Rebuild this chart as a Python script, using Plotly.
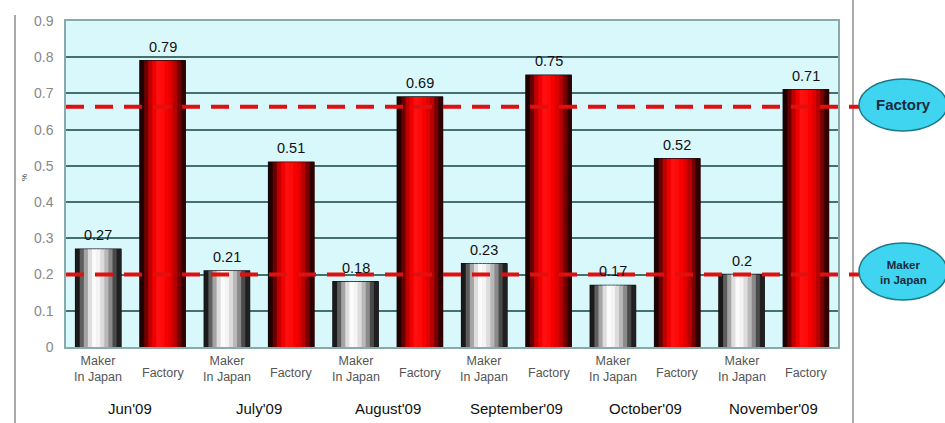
import plotly.graph_objects as go

months = ["Jun'09", "July'09", "August'09", "September'09", "October'09", "November'09"]
maker = [0.27, 0.21, 0.18, 0.23, 0.17, 0.20]
maker_txt = ["0.27", "0.21", "0.18", "0.23", "0.17", "0.2"]
factory = [0.79, 0.51, 0.69, 0.75, 0.52, 0.71]
factory_txt = ["0.79", "0.51", "0.69", "0.75", "0.52", "0.71"]
cat_labels = ["Maker<br>In Japan", "Factory"]
ref_factory = 0.663
ref_maker = 0.20
yticks = [0, 0.1, 0.2, 0.3, 0.4, 0.5, 0.6, 0.7, 0.8, 0.9]

gray_grad = ["#1a1a1a", "#5e5e5e", "#a4a4a4", "#dedede", "#fbfbfb", "#f4f4f4",
             "#dcdcdc", "#b8b8b8", "#8a8a8a", "#4a4a4a", "#202020"]
red_grad = ["#200000", "#6a0000", "#c00000", "#f00000", "#ff1010", "#ff0a0a",
            "#f80000", "#e00000", "#b80000", "#780000", "#300000"]

mx = [2 * i for i in range(len(months))]
fx = [2 * i + 1 for i in range(len(months))]

fig = go.Figure()
BW = 0.7
n = len(gray_grad)
sw = BW / n
for xs, ys, grad in [(mx, maker, gray_grad), (fx, factory, red_grad)]:
    fig.add_trace(go.Bar(x=xs, y=ys, width=BW, marker=dict(color="#111", line=dict(width=1.5, color="#111")),
                         showlegend=False, hoverinfo="skip"))
    for i, c in enumerate(grad):
        fig.add_trace(go.Bar(x=xs, y=ys, width=sw * 1.2, offset=-BW / 2 + i * sw,
                             marker=dict(color=c, line=dict(width=0)),
                             showlegend=False, hoverinfo="skip"))

# value labels
for xs, ys, ts in [(mx, maker, maker_txt), (fx, factory, factory_txt)]:
    for x, y, t in zip(xs, ys, ts):
        fig.add_annotation(x=x, y=y, xref="x", yref="y", text=t, showarrow=False,
                           xanchor="center", yanchor="bottom", yshift=4,
                           font=dict(family="Arial", size=14.5, color="#111"))

fig.update_layout(
    width=945, height=423,
    margin=dict(l=66, r=107, t=21, b=76),
    paper_bgcolor="white",
    plot_bgcolor="#d8f8fc",
    barmode="overlay",
    xaxis=dict(range=[-0.5, 11.5], showticklabels=False,
               showgrid=False, zeroline=False, ticks="", showline=True,
               linecolor="#8aa", linewidth=1.5, mirror=True),
    yaxis=dict(range=[0, 0.9], tickvals=yticks,
               ticktext=["0"] + ["%.1f" % v for v in yticks[1:]],
               tickfont=dict(family="Arial", size=14, color="#888"),
               showgrid=True, gridcolor="#45706e", gridwidth=2, zeroline=False,
               showline=True, linecolor="#8aa", linewidth=1.5, mirror=True,
               ticklabelstandoff=8),
)

# category labels
for i in range(12):
    lab = cat_labels[i % 2]
    fig.add_annotation(x=i, y=0, xref="x", yref="paper", yshift=-22 if i % 2 == 0 else -26,
                       yanchor="middle", xanchor="center",
                       text=lab, showarrow=False, font=dict(family="Arial", size=12.5, color="#555"))

# month labels
for i, m in enumerate(months):
    fig.add_annotation(x=2 * i + 0.5, y=0, xref="x", yref="paper", yshift=-61, yanchor="middle",
                       xanchor="center",
                       text=m, showarrow=False, font=dict(family="Arial", size=15, color="#111"))

# y title
fig.add_annotation(x=-0.062, y=0.52, xref="paper", yref="paper", text="%", textangle=-90, showarrow=False,
                   font=dict(family="Arial", size=8, color="#333"))


def px(x):
    return (x - 66) / 772


def py(y):
    return (347 - y) / 326


# outer frame lines
fig.add_shape(type="line", xref="paper", yref="paper", x0=px(15), x1=px(15),
              y0=py(423), y1=py(15), line=dict(color="#aaa", width=2))
fig.add_shape(type="line", xref="paper", yref="paper", x0=px(853), x1=px(853),
              y0=py(423), y1=py(0), line=dict(color="#aaa", width=2))

# dashed reference lines
for v in [ref_factory, ref_maker]:
    fig.add_shape(type="line", xref="paper", yref="y", x0=0, x1=px(859), y0=v, y1=v,
                  line=dict(color="#e01010", width=4, dash="18px,11px"))

# ellipses
fig.add_shape(type="circle", xref="paper", yref="paper", x0=px(859), x1=px(947), y0=py(131), y1=py(79),
              fillcolor="#3fd4f0", line=dict(color="#1a7a8a", width=1.5))
fig.add_annotation(x=px(903), y=py(105), xref="paper", yref="paper", xanchor="center", yanchor="middle",
                   text="<b>Factory</b>", showarrow=False,
                   font=dict(family="Arial", size=15, color="#1a2a40"))
fig.add_shape(type="circle", xref="paper", yref="paper", x0=px(859), x1=px(947), y0=py(300), y1=py(243),
              fillcolor="#3fd4f0", line=dict(color="#1a7a8a", width=1.5))
fig.add_annotation(x=px(903), y=py(272), xref="paper", yref="paper", xanchor="center", yanchor="middle",
                   text="<b>Maker<br>in Japan</b>",
                   showarrow=False, font=dict(family="Arial", size=11.5, color="#1a2a40"))

fig.write_html("out.html")
